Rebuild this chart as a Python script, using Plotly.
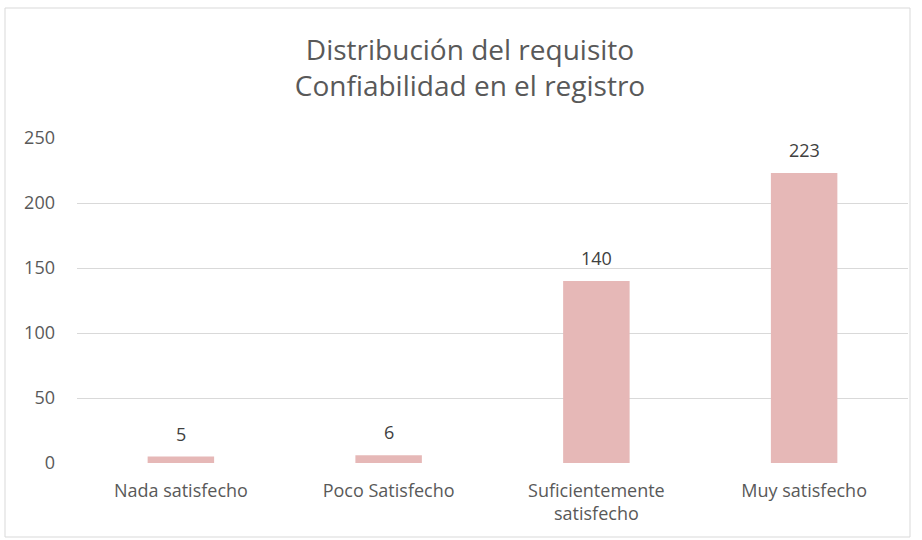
import plotly.graph_objects as go

categories = ["Nada satisfecho", "Poco Satisfecho", "Suficientemente<br>satisfecho", "Muy satisfecho"]
values = [5, 6, 140, 223]
y_ticks = [0, 50, 100, 150, 200, 250]

W, H = 922, 540
L, R, T, B = 77, 14, 138, 77
pw, ph = W - L - R, H - T - B

fig = go.Figure(go.Bar(
    x=categories, y=values,
    marker=dict(color="#E6B8B7", line=dict(width=0)),
    cliponaxis=False, width=0.32, hoverinfo="skip",
))

for c, v in zip(categories, values):
    fig.add_annotation(x=c, y=v, text=str(v), showarrow=False, yanchor="bottom",
                       yshift=9, font=dict(family="Open Sans", size=18, color="#404040"))

def px_x(p):
    return (p - L) / pw

def px_y(p):
    return (H - B - p) / ph

fig.update_layout(
    width=W, height=H,
    margin=dict(l=L, r=R, t=T, b=B),
    paper_bgcolor="white", plot_bgcolor="white",
    font=dict(family="Open Sans", color="#595959"),
    title=dict(text="Distribución del requisito<br>Confiabilidad en el registro",
               x=470 / W, xanchor="center", y=1 - 60 / H, yanchor="middle",
               font=dict(family="Open Sans", size=28, color="#595959")),
    showlegend=False,
    shapes=[dict(type="rect", xref="paper", yref="paper",
                 x0=px_x(5), x1=px_x(910), y0=px_y(537), y1=px_y(8),
                 line=dict(color="#D9D9D9", width=1), fillcolor="rgba(0,0,0,0)", layer="below")],
)
fig.update_xaxes(showgrid=False, showline=False, zeroline=False,
                 tickfont=dict(size=18, color="#595959"), ticklabelstandoff=15)
fig.update_yaxes(range=[0, 250], tickvals=y_ticks, showgrid=True, gridcolor="#D9D9D9",
                 zeroline=False, showline=False, tickfont=dict(size=18, color="#595959"),
                 ticklabelstandoff=21)

fig.write_html("out.html", config={"displayModeBar": False},
               post_script="document.body.style.margin='0';document.body.style.padding='0';")
